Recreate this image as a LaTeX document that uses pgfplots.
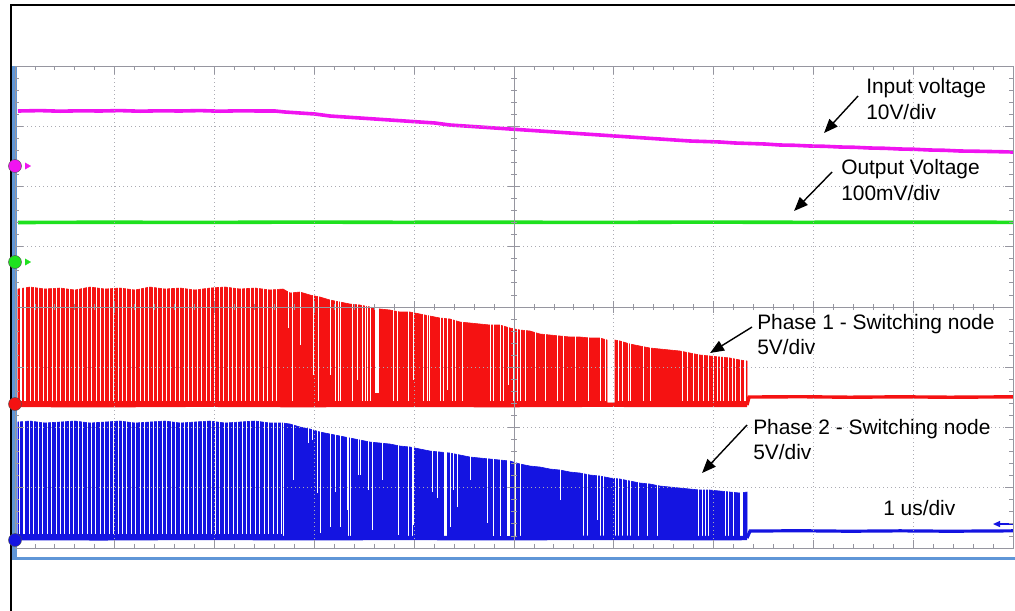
\documentclass[border=0pt]{standalone}
\usepackage{pgfplots}
\pgfplotsset{compat=1.18}
\usepackage{fontspec}
\setmainfont{Liberation Sans}
\usetikzlibrary{arrows.meta}
\definecolor{cmag}{RGB}{240,20,240}
\definecolor{cgreen}{RGB}{30,225,30}
\definecolor{cred}{RGB}{245,18,18}
\definecolor{cblue}{RGB}{20,20,225}
\definecolor{cbar}{RGB}{95,150,215}
\definecolor{cgrid}{RGB}{150,150,160}
\begin{document}
\begin{tikzpicture}
\begin{axis}[
  at={(0,0)}, anchor=south west,
  scale only axis, width=998bp, height=482bp,
  xmin=15, xmax=1013, ymin=66, ymax=548, y dir=reverse,
  xtick={15,114.8,214.6,314.4,414.2,514,613.8,713.6,813.4,913.2,1013},
  ytick={66,126.25,186.5,246.75,307,367.25,427.5,487.75,548},
  minor x tick num=4, minor y tick num=4,
  xticklabels={}, yticklabels={},
  tick align=inside, major tick length=8bp, minor tick length=4bp,
  xtick pos=both, ytick pos=both,
  grid=major, major grid style={cgrid!80, line width=0.9bp, dash pattern=on 1.2bp off 2.8bp},
  axis line style={cgrid, line width=0.9bp},
  every tick/.style={cgrid, line width=0.9bp},
  axis on top, clip=false,
]
% ---- Input voltage (magenta)
\addplot[cmag, line width=3.6bp] coordinates {
(18,111)(40,110.6)(60,111.2)(80,110.8)(100,111)(120,110.6)(140,111.2)(160,110.8)(180,111)(200,110.6)(220,111.2)(240,110.8)(260,111)(275,111)(285,112)(300,113)(315,114)(330,116)(345,117)(360,118)(375,119)(390,120)(405,121)(420,122)(435,123)(450,125)(465,126)(480,127)(495,128)(510,129)(525,130)(540,131)(555,132)(570,133)(585,134)(600,135)(615,136)(630,137)(645,138)(660,139)(675,140)(690,141)(705,141.5)(720,142)(735,143)(750,143.5)(765,144)(780,145)(795,145.3)(810,146)(825,146.3)(840,147)(855,147.3)(870,148)(885,148.3)(900,149)(915,149.3)(930,150)(945,150.3)(960,151)(975,151.2)(990,151.5)(1013,152)};
% ---- Output voltage (green)
\addplot[cgreen, line width=3.6bp] coordinates {
(18,222.5)(100,222.2)(200,222.4)(300,222.1)(400,222.3)(500,222.2)(600,222.4)(700,222.1)(800,222.3)(900,222.2)(1013,222.3)};
% ---- Phase 1 switching node (red): envelope of pulses
\addplot[draw=cred, line width=0.6bp, fill=cred] coordinates {
(18,405)(18,289)(30,287)(45,289)(60,288)(75,290)(90,287)(105,289)(120,288)(135,290)(150,287)(165,289)(180,288)(195,290)(210,288)(225,287)(240,289)(255,288)(270,290)(283,289)(290,293)(300,292)(310,295)(320,297)(330,300)(340,302)(350,304)(360,305)(370,307)(380,309)(390,310)(400,312)(410,312)(420,314)(430,316)(440,318)(450,319)(460,322)(470,323)(480,324)(490,325)(500,325)(510,328)(520,330)(530,331)(540,334)(550,335)(560,336)(570,337)(580,337)(590,338)(600,338)(607,340)(607,403)(615,403)(615,340)(620,341)(630,344)(640,346)(650,348)(660,349)(670,350)(680,351)(690,353)(700,355)(710,356)(720,357)(730,358)(740,360)(747,361)(747,405)};
% gaps between pulses (x, bottom of gap)
\addplot[white, line width=1bp, quiver={u=0, v=284-\thisrow{b}}] table[x=x, y=b] {
x b
21 401
25 401
30 401
34 401
38 401
43 401
47 401
52 401
56 401
60 401
65 401
69 401
74 401
78 401
82 401
87 401
91 401
96 401
100 401
104 401
109 401
113 401
118 401
122 401
126 401
131 401
135 401
140 401
144 401
148 401
153 401
157 401
162 401
166 401
170 401
175 401
179 401
184 401
188 401
192 401
197 401
201 401
206 401
210 401
214 401
219 401
223 401
228 401
232 401
236 401
241 401
245 401
250 401
254 401
258 401
263 401
267 401
272 401
276 401
288 328
292 401
300 345
313 375
318 401
330 375
335 401
338 401
340 401
352 401
357 380
362 401
365 401
367 401
370 401
375 393
376 393
377 393
378 393
393 401
397 401
408 401
413 380
423 401
427 401
429 401
440 401
443 401
447 390
452 401
455 401
462 401
490 401
493 401
500 401
503 401
508 385
513 401
517 401
520 401
525 401
535 401
545 401
557 401
563 401
575 401
588 401
600 401
605 401
618 401
622 401
628 401
630 401
643 401
650 401
682 401
687 401
693 401
698 401
703 401
708 401
713 401
717 401
720 401
723 401
728 401
732 401
735 401
740 401
744 401
745 401
};
\addplot[cred, line width=4.2bp] coordinates {
(18,405)(100,405.3)(200,404.8)(300,405.2)(400,404.9)(500,405.2)(600,404.8)(700,405.1)(747,405)};
\addplot[cred, line width=3.4bp] coordinates {
(747,405)(749,397)(800,396.7)(850,397.2)(900,396.8)(950,397.2)(1013,396.8)};
% ---- Phase 2 switching node (blue): envelope of pulses
\addplot[draw=cblue, line width=0.6bp, fill=cblue] coordinates {
(18,538)(18,422)(30,421)(45,423)(60,422)(75,421)(90,423)(105,422)(120,421)(135,423)(150,422)(165,421)(180,423)(195,422)(210,421)(225,423)(240,422)(255,421)(270,423)(283,423)(290,424)(300,427)(310,429)(320,432)(330,434)(340,436)(350,438)(360,440)(370,442)(380,443)(390,444)(400,446)(410,447)(420,449)(430,451)(440,452)(450,453)(460,455)(470,457)(480,458)(490,459)(500,460)(510,461)(520,464)(530,466)(540,467)(550,469)(560,470)(570,472)(580,473)(590,475)(600,476)(610,478)(620,479)(630,481)(640,483)(650,484)(660,486)(670,487)(680,488)(690,489)(700,490)(710,490)(720,491)(730,492)(740,493)(747,492)(747,538)};
\addplot[white, line width=1bp, quiver={u=0, v=419-\thisrow{b}}] table[x=x, y=b] {
x b
20 534
24 534
29 534
33 534
38 534
42 534
47 534
51 534
56 534
60 534
64 534
69 534
73 534
78 534
82 534
87 534
91 534
95 534
100 534
104 534
109 534
113 534
118 534
122 534
126 534
131 534
135 534
140 534
144 534
149 534
153 534
157 534
162 534
166 534
171 534
175 534
180 534
184 534
188 534
193 534
197 534
202 534
206 534
211 534
215 534
219 534
224 534
228 534
233 534
237 534
242 534
246 534
250 534
255 534
259 534
264 534
268 534
273 534
277 534
281 534
283 536
293 480
308 443
312 440
317 493
320 533
330 527
335 492
340 527
347 510
348 536
350 536
358 475
360 475
368 490
372 530
382 480
398 535
408 536
412 536
413 525
432 492
437 498
444 536
445 536
446 536
450 527
453 490
457 507
470 480
487 523
493 536
500 536
507 536
508 536
509 536
515 536
520 536
560 500
583 536
587 536
597 520
600 536
603 536
615 536
618 536
622 536
627 536
630 536
638 536
647 536
657 536
698 536
702 536
705 536
708 536
725 536
728 536
733 536
740 536
741 536
742 536
};
\addplot[cblue, line width=4.4bp] coordinates {
(18,538)(100,538.3)(200,537.8)(300,538.2)(400,537.9)(500,538.2)(600,537.8)(700,538.1)(747,538)};
\addplot[cblue, line width=3.2bp] coordinates {
(747,538)(750,531)(800,530.7)(850,531.2)(900,530.8)(950,531.2)(1013,530.8)};
% ---- display border (light blue) and outer frame
\fill[cbar] (axis cs:12.5,66) rectangle (axis cs:17.5,560);
\fill[cbar] (axis cs:12.5,556.5) rectangle (axis cs:1015,560);
\draw[black, line width=2.4bp] (axis cs:11,612) -- (axis cs:11,5) -- (axis cs:1017,5);
% trigger marker
\draw[cblue, line width=1.1bp, {Triangle[length=7bp,width=6bp]}-] (axis cs:993,524) -- (axis cs:1013,524);
% ---- channel reference markers
\addplot[only marks, mark=*, mark size=6.5bp, mark options={fill=cmag, draw=gray!60!black, line width=0.4bp}] coordinates {(15,166)};
\addplot[only marks, mark=triangle*, mark size=3.6bp, mark options={rotate=-90, fill=cmag, draw=cmag}] coordinates {(27,166)};
\addplot[only marks, mark=*, mark size=6.5bp, mark options={fill=cgreen, draw=gray!60!black, line width=0.4bp}] coordinates {(15,262)};
\addplot[only marks, mark=triangle*, mark size=3.6bp, mark options={rotate=-90, fill=cgreen, draw=cgreen}] coordinates {(27,262)};
\addplot[only marks, mark=*, mark size=6.5bp, mark options={fill=cred, draw=gray!60!black, line width=0.4bp}] coordinates {(15,404)};
\addplot[only marks, mark=*, mark size=6.5bp, mark options={fill=cblue, draw=gray!60!black, line width=0.4bp}] coordinates {(15,540)};
\coordinate (BL) at (axis cs:0,610);
\coordinate (TR) at (axis cs:1015,0);
\end{axis}
% centre cross-hair lines with their ticks
\draw[cgrid, line width=0.9bp] (499bp,0) -- (499bp,482bp);
\draw[cgrid, line width=0.9bp] (0,241bp) -- (998bp,241bp);
\foreach \k in {1,...,49} {\draw[cgrid, line width=0.9bp] ({\k*19.96bp},238bp) -- ++(0,6bp);}
\foreach \k in {1,...,9} {\draw[cgrid, line width=0.9bp] ({\k*99.8bp},235bp) -- ++(0,12bp);}
\foreach \k in {1,...,39} {\draw[cgrid, line width=0.9bp] (496bp,{\k*12.05bp}) -- ++(6bp,0);}
\foreach \k in {1,...,7} {\draw[cgrid, line width=0.9bp] (493bp,{\k*60.25bp}) -- ++(12bp,0);}
% annotations
\begin{scope}[font=\fontsize{21}{25}\selectfont]
\node[anchor=base west, inner sep=0] at (851bp,454bp) {Input voltage};
\node[anchor=base west, inner sep=0] at (851bp,429bp) {10V/div};
\node[anchor=base west, inner sep=0] at (826bp,374bp) {Output Voltage};
\node[anchor=base west, inner sep=0] at (826bp,348bp) {100mV/div};
\node[anchor=base west, inner sep=0] at (742bp,219bp) {Phase 1 - Switching node};
\node[anchor=base west, inner sep=0] at (742bp,194bp) {5V/div};
\node[anchor=base west, inner sep=0] at (738bp,114bp) {Phase 2 - Switching node};
\node[anchor=base west, inner sep=0] at (738bp,89bp) {5V/div};
\node[anchor=base west, inner sep=0] at (868bp,33bp) {1 us/div};
\end{scope}
\begin{scope}[line width=1.4bp, -{Triangle[length=14bp,width=11bp]}]
\draw (843bp,452bp) -- (809bp,415bp);
\draw (817bp,376bp) -- (779bp,337bp);
\draw (737bp,221bp) -- (695bp,195bp);
\draw (732bp,123bp) -- (687bp,75bp);
\end{scope}
\pgfresetboundingbox
\path[use as bounding box] (BL) rectangle (TR);
\end{tikzpicture}
\end{document}
